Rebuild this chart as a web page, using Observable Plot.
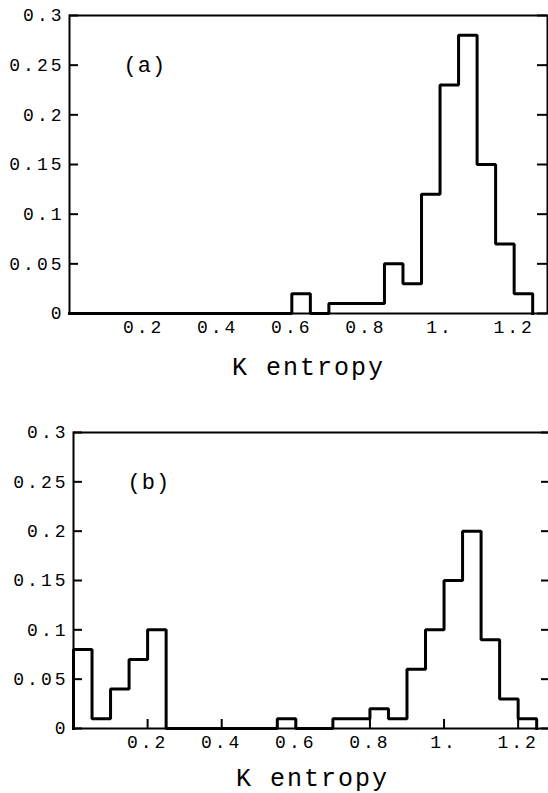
<!DOCTYPE html>
<html>
<head>
<meta charset="utf-8">
<script src="https://cdn.jsdelivr.net/npm/d3@7"></script>
<script src="https://cdn.jsdelivr.net/npm/@observablehq/plot@0.6"></script>
<style>
  body { margin: 0; background: #fff; }
  #chart svg { display: block; }
</style>
</head>
<body>
<div id="chart"></div>
<script>
// Histogram bins of K entropy (left edges, width 0.05)
const binStart = [0, 0.05, 0.10, 0.15, 0.20, 0.25, 0.30, 0.35, 0.40, 0.45, 0.50, 0.55,
                  0.60, 0.65, 0.70, 0.75, 0.80, 0.85, 0.90, 0.95, 1.00, 1.05, 1.10, 1.15, 1.20];
const binWidth = 0.05;

// Relative frequencies, panel (a)
const freqA = [0, 0, 0, 0, 0, 0, 0, 0, 0, 0, 0, 0,
               0.02, 0, 0.01, 0.01, 0.01, 0.05, 0.03, 0.12, 0.23, 0.28, 0.15, 0.07, 0.02];
// Relative frequencies, panel (b)
const freqB = [0.08, 0.01, 0.04, 0.07, 0.10, 0, 0, 0, 0, 0, 0, 0.01,
               0, 0, 0.01, 0.01, 0.02, 0.01, 0.06, 0.10, 0.15, 0.20, 0.09, 0.03, 0.01];

const yTicks = [0, 0.05, 0.1, 0.15, 0.2, 0.25, 0.3];
const yTickLabels = ["0", "0.05", "0.1", "0.15", "0.2", "0.25", "0.3"];
const xTicks = [0.2, 0.4, 0.6, 0.8, 1.0, 1.2];
const xTickLabels = ["0.2", "0.4", "0.6", "0.8", "1.", "1.2"];
const axisTitle = "K entropy";
const panelLabels = ["(a)", "(b)"];

const mono = "'Liberation Mono', 'Courier New', 'DejaVu Sans Mono', monospace";

// Outline of the histogram: start on the baseline, one step per bin, drop at the last edge
function stepPoints(freq) {
  const pts = [{x: binStart[0], y: 0}];
  binStart.forEach((x, i) => pts.push({x, y: freq[i]}));
  pts.push({x: binStart[binStart.length - 1] + binWidth, y: 0});
  return pts;
}

function panel(freq, label, o) {
  const W = 548;
  const plotW = W - o.marginLeft - o.marginRight;
  const plotH = o.height - o.marginTop - o.marginBottom;
  const marks = [
    Plot.frame({stroke: "#000", strokeWidth: 2}),
    // tick labels
    Plot.axisY(yTicks, {anchor: "left", tickSize: 0, tickPadding: 5,
      tickFormat: d => yTickLabels[yTicks.indexOf(d)], label: null}),
    Plot.axisX(xTicks, {anchor: "bottom", tickSize: 0, tickPadding: 7,
      tickFormat: d => xTickLabels[xTicks.indexOf(d)], label: null}),
    // short inward ticks on the left and right edges
    Plot.tickY(yTicks, {y: d => d, insetRight: plotW - 9, stroke: "#000", strokeWidth: 2}),
    Plot.tickY(yTicks, {y: d => d, insetLeft: plotW - 10, stroke: "#000", strokeWidth: 2})
  ];
  // short inward ticks on the bottom edge
  if (o.bottomTicks) {
    marks.push(Plot.tickX(xTicks, {x: d => d, insetTop: plotH - 9, stroke: "#000", strokeWidth: 2}));
  }
  marks.push(
    Plot.line(stepPoints(freq), {x: "x", y: "y", curve: "step-after",
      stroke: "#000", strokeWidth: 3, strokeLinejoin: "miter", strokeLinecap: "square"}),
    Plot.text([axisTitle], {text: d => d, frameAnchor: "bottom", dy: o.titleDy,
      lineAnchor: "bottom", fontSize: 25, className: "ktitle"}),
    Plot.text([label], {text: d => d, frameAnchor: "top-left", dx: 54, dy: 41,
      textAnchor: "start", lineAnchor: "top", fontSize: 22, className: "plabel"})
  );
  const svg = Plot.plot({
    width: W,
    height: o.height,
    marginTop: o.marginTop,
    marginBottom: o.marginBottom,
    marginLeft: o.marginLeft,
    marginRight: o.marginRight,
    x: {domain: [0, 1.29]},
    y: {domain: [0, 0.3]},
    style: {fontFamily: mono, fontSize: "18px", color: "#000", background: "transparent", overflow: "visible"},
    marks
  });
  const s = d3.select(svg);
  s.selectAll("text").style("letter-spacing", "3px");
  s.selectAll(".ktitle text").style("letter-spacing", "2px");
  s.selectAll(".plabel text").style("letter-spacing", "1px");
  return svg;
}

const root = document.getElementById("chart");
root.appendChild(panel(freqA, panelLabels[0],
  {height: 400, marginTop: 15, marginBottom: 87, marginLeft: 69, marginRight: 1, titleDy: 61, bottomTicks: false}));
root.appendChild(panel(freqB, panelLabels[1],
  {height: 393, marginTop: 32, marginBottom: 65, marginLeft: 73, marginRight: -3, titleDy: 57, bottomTicks: true}));
</script>
</body>
</html>
